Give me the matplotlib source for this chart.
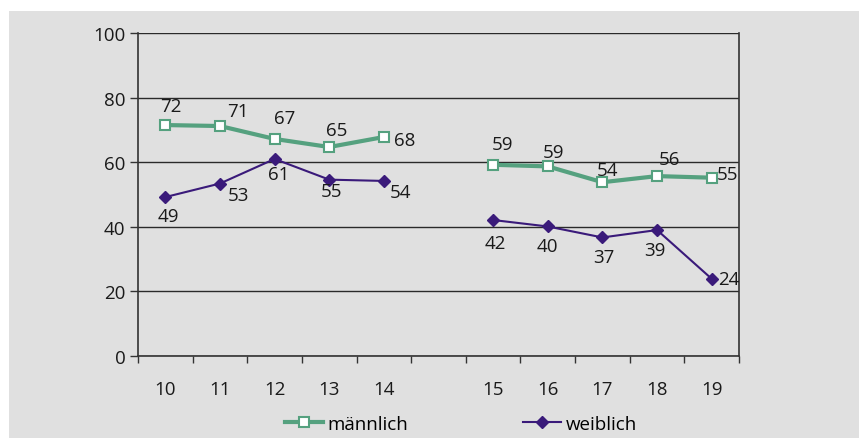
import matplotlib
matplotlib.use("Agg")
import matplotlib.pyplot as plt
from matplotlib.patches import Rectangle
from matplotlib.lines import Line2D
import numpy as np

categories = ["10", "11", "12", "13", "14", "", "15", "16", "17", "18", "19"]
maennlich = [71.5, 71.2, 67.2, 64.7, 67.8, None, 59.2, 58.7, 53.8, 55.7, 55.2]
weiblich = [49.2, 53.4, 61.0, 54.6, 54.2, None, 42.1, 40.1, 36.7, 39.0, 23.9]

# label offsets in pixels (dx, dy upward)
m_off = [(5, 19), (18, 15), (10, 21), (7, 17), (21, -3), None, (9, 21), (6, 14), (5, 12), (12, 17), (16, 4)]
w_off = [(3, -19), (18, -11), (4, -15), (2, -11), (17, -11), None, (2, -23), (0, -20), (1, -20), (-2, -20), (17, 0)]

plt.rcParams['font.family'] = ['Open Sans', 'Noto Sans', 'DejaVu Sans']
FS = 13.5

W, H = 859, 439
fig = plt.figure(figsize=(W / 100, H / 100), dpi=100)
fig.patch.set_facecolor("white")
bg = Rectangle((9 / W, 0), 1 - 9 / W, 1 - 12 / H, transform=fig.transFigure,
               facecolor="#e0e0e0", edgecolor="none", zorder=-10)
fig.add_artist(bg)

ax_l, ax_r, ax_t, ax_b = 138, 739, 34, 357
ax = fig.add_axes([ax_l / W, 1 - ax_b / H, (ax_r - ax_l) / W, (ax_b - ax_t) / H])
ax.set_zorder(2)
ax.set_facecolor("#e0e0e0")

x = np.arange(len(categories))
m = np.array([np.nan if v is None else v for v in maennlich], dtype=float)
w = np.array([np.nan if v is None else v for v in weiblich], dtype=float)

green = "#55a17f"
purple = "#3a1a7a"
txt = "#1a1a1a"

ax.plot(x, m, color=green, lw=3, marker="s", ms=7, mfc="white", mec=green, mew=1.5, zorder=4)
ax.plot(x, w, color=purple, lw=1.5, marker="D", ms=6, mfc=purple, mec=purple, zorder=4)

for i in range(len(x)):
    if m_off[i] is not None:
        ax.annotate(f"{m[i]:.0f}", (x[i], m[i]), xytext=m_off[i], textcoords="offset pixels",
                    ha="center", va="center", fontsize=FS, color=txt, zorder=5)
    if w_off[i] is not None:
        ax.annotate(f"{w[i]:.0f}", (x[i], w[i]), xytext=w_off[i], textcoords="offset pixels",
                    ha="center", va="center", fontsize=FS, color=txt, zorder=5)

ax.set_xlim(-0.5, len(categories) - 0.5)
ax.set_ylim(0, 100)
ax.set_yticks([0, 20, 40, 60, 80, 100])
ax.yaxis.grid(True, color="#2a2a2a", lw=1)
ax.set_axisbelow(True)
ax.set_xticks(x)
ax.set_xticklabels(categories)
ax.set_xticks(np.arange(-0.5, len(categories), 1), minor=True)
ax.tick_params(axis="x", which="major", length=0, pad=17, labelsize=FS, colors=txt)
ax.tick_params(axis="x", which="minor", length=5, width=1, color="#333333")
ax.tick_params(axis="y", length=6, width=1, color="#333333", labelsize=FS, labelcolor=txt, pad=3)
for s in ["left", "bottom", "right"]:
    ax.spines[s].set_color("#333333")
    ax.spines[s].set_linewidth(1.2)
ax.spines["top"].set_visible(False)

h1 = Line2D([], [], color=green, lw=3, marker="s", ms=7, mfc="white", mec=green, mew=1.5)
h2 = Line2D([], [], color=purple, lw=1.5, marker="D", ms=6, mfc=purple, mec=purple)
fig.legend([h1, h2], ["männlich", "weiblich"], loc="center", bbox_to_anchor=(461 / W, 1 - 425 / H),
           ncol=2, frameon=False, fontsize=FS, handlelength=2.05, columnspacing=6.1, handletextpad=0.25,
           borderpad=0)

fig.savefig("out.png", dpi=100)
